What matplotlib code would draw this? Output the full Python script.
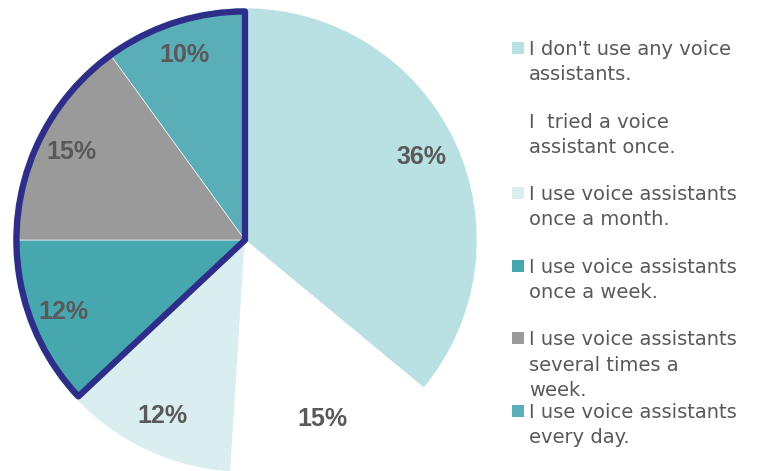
import matplotlib
matplotlib.use("Agg")
import matplotlib.pyplot as plt
from matplotlib.patches import Wedge, Rectangle
import numpy as np

# data
labels = ["I don't use any voice\nassistants.",
          "I  tried a voice\nassistant once.",
          "I use voice assistants\nonce a month.",
          "I use voice assistants\nonce a week.",
          "I use voice assistants\nseveral times a\nweek.",
          "I use voice assistants\nevery day."]
values = [36, 15, 12, 12, 15, 10]
colors = ['#B9E0E3', '#FFFFFF', '#DAEEF0', '#46A7AF', '#9A9A9A', '#5AAEB8']
outlined_from = 3  # first slice of the outlined group

W, H = 760, 471
fig = plt.figure(figsize=(W / 100, H / 100), dpi=100)

# pie axes: center (245, 240) px, radius 232 px
cx, cy, r = 245, 240, 232
ax = fig.add_axes([(cx - r) / W, (H - cy - r) / H, 2 * r / W, 2 * r / H])
wedges, texts, autotexts = ax.pie(values, colors=colors, startangle=90, counterclock=False,
                                  autopct='%d%%', pctdistance=0.84,
                                  wedgeprops=dict(edgecolor='white', linewidth=0.4),
                                  textprops=dict(color='#595959', fontsize=18,
                                                 fontweight='bold', family='Liberation Sans'))
ax.set_xlim(-1, 1)
ax.set_ylim(-1, 1)
ax.set_aspect('equal')
ax.axis('off')

# thick navy outline around the last three slices
frac_group = sum(values[outlined_from:]) / sum(values)
theta1 = 90
theta2 = 90 + 360 * frac_group
ax.add_patch(Wedge((0, 0), 0.985, theta1, theta2, fill=False,
                   edgecolor='#2E2E8A', linewidth=4.5, joinstyle='round'))

# legend, drawn by hand
sq = 12
x_sq = 512
x_txt = 529
y0, step = 48, 72.6
for i, (lab, c) in enumerate(zip(labels, colors)):
    yc = y0 + i * step
    fig.patches.append(Rectangle(((x_sq) / W, (H - yc - sq / 2) / H), sq / W, sq / H,
                                 transform=fig.transFigure, facecolor=c, edgecolor='none'))
    fig.text(x_txt / W, 1 - (yc - 8) / H, lab, ha='left', va='top',
             fontsize=14, color='#595959', linespacing=1.42, family='DejaVu Sans')

fig.savefig('out.png', dpi=100, facecolor='white')
